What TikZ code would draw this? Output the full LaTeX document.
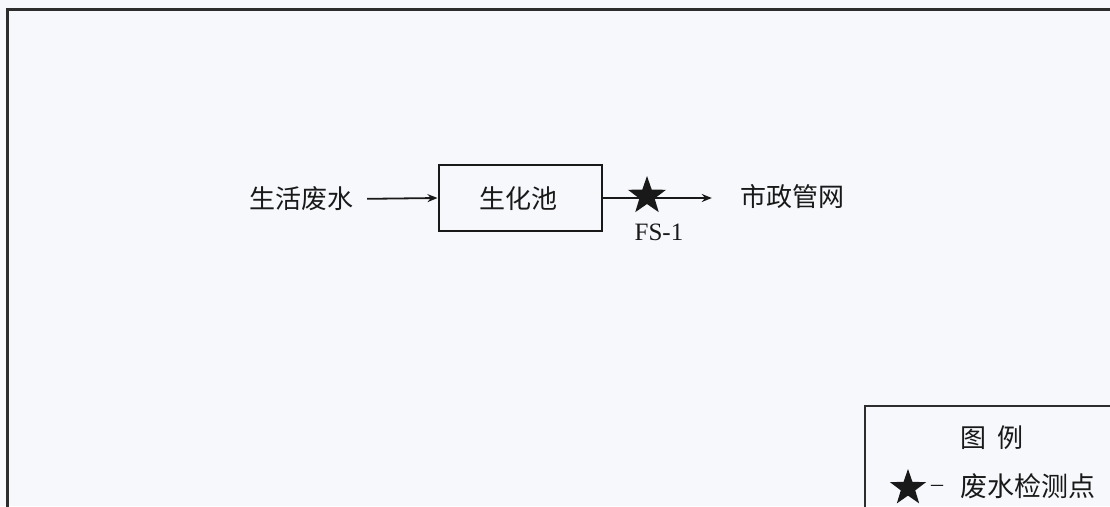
\documentclass[tikz,border=0pt]{standalone}
\usepackage{fontspec}
\newfontfamily\cjk{Noto Sans CJK SC}
\setmainfont{Liberation Serif}
\usetikzlibrary{shapes.geometric,arrows.meta}
\definecolor{bgc}{RGB}{246,248,251}
\definecolor{framec}{RGB}{45,45,45}
\definecolor{inkc}{RGB}{25,25,25}
\tikzset{
  cjktext/.style={font=\cjk\fontsize{26}{30}\selectfont, text=inkc, inner sep=0pt},
  latintext/.style={font=\fontsize{25}{28}\selectfont, text=inkc, inner sep=0pt},
  poolbox/.style={draw=inkc, line width=2pt, minimum width=163pt, minimum height=66pt, inner sep=0pt},
  flow/.style={draw=inkc, line width=1.8pt, -{Stealth[length=10pt,width=8pt]}},
  starmark/.style={star, star points=5, star point ratio=2.5, fill=inkc, draw=none, inner sep=0pt},
  framebox/.style={draw=framec, line width=3pt}
}
\begin{document}
\begin{tikzpicture}[x=1pt,y=-1pt]
\useasboundingbox (0,0) rectangle (1110,506);
\fill[bgc] (0,0) rectangle (1110,506);
% outer frame (extends beyond right and bottom)
\draw[framebox] (7,520) -- (7,9) -- (1120,9);
% main flow
\node[cjktext] (src) at (301,199) {生活废水};
\node[poolbox] (pool) at (520,198) {};
\node[cjktext] (poollabel) at (518,199) {生化池};
\node[cjktext] (dst) at (792,197) {市政管网};
\draw[flow, shorten <=14pt] (src.east) -- (pool.west);
\draw[flow, shorten >=28pt] (pool.east |- 0,198) -- (dst.west |- 0,198);
\node[starmark, minimum size=40pt] (fs) at (647,196) {};
\node[latintext] (fslabel) at (659,232) {FS-1};
% legend
\draw[framebox, line width=2.5pt] (865,520) -- (865,406) -- (1120,406);
\node[cjktext] (legtitle) at (992,438) {图\hspace{0.45em}例};
\node[starmark, minimum size=38pt] (legstar) at (908,488) {};
\node[latintext, font=\fontsize{24}{28}\selectfont] (legdash) at (937,488) {–};
\node[cjktext, font=\cjk\fontsize{27}{30}\selectfont] (legtext) at (1028,486) {废水检测点};
\end{tikzpicture}
\end{document}
